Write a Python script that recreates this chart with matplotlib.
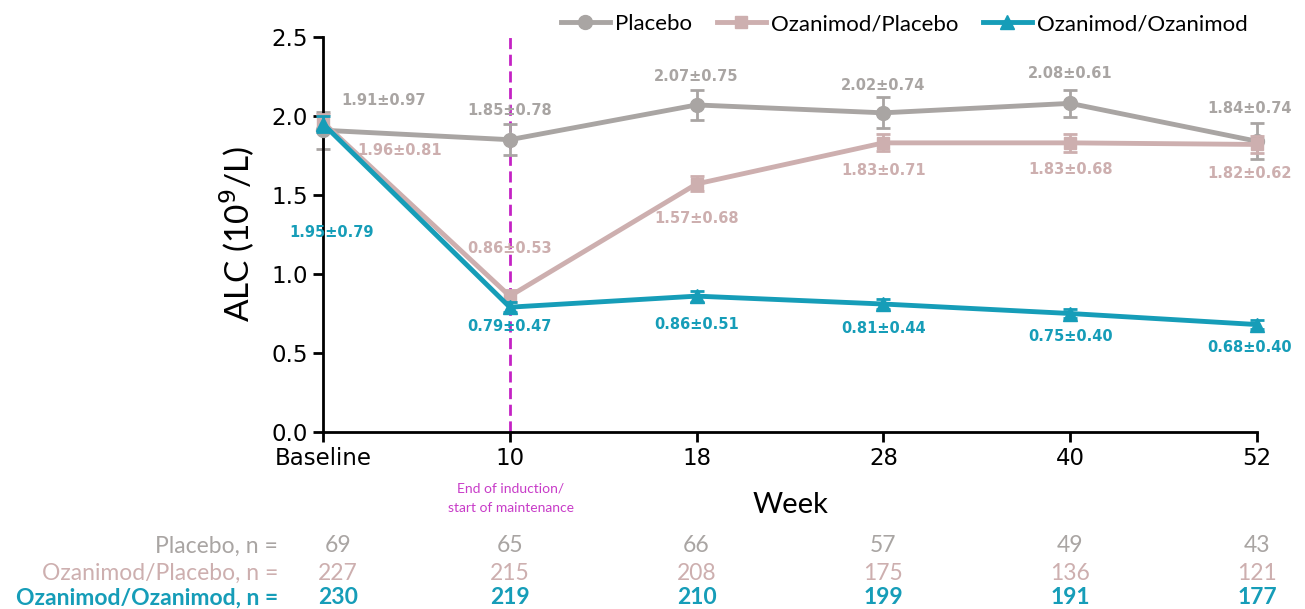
import numpy as np
import matplotlib
matplotlib.use("Agg")
import matplotlib.pyplot as plt

plt.rcParams['font.family'] = ['Lato', 'DejaVu Sans']

categories = ["Baseline", "10", "18", "28", "40", "52"]
series_names = ["Placebo", "Ozanimod/Placebo", "Ozanimod/Ozanimod"]

placebo_mean = [1.91, 1.85, 2.07, 2.02, 2.08, 1.84]
placebo_sd = [0.97, 0.78, 0.75, 0.74, 0.61, 0.74]
placebo_n = [69, 65, 66, 57, 49, 43]

ozpbo_mean = [1.96, 0.86, 1.57, 1.83, 1.83, 1.82]
ozpbo_sd = [0.81, 0.53, 0.68, 0.71, 0.68, 0.62]
ozpbo_n = [227, 215, 208, 175, 136, 121]

ozoz_mean = [1.95, 0.79, 0.86, 0.81, 0.75, 0.68]
ozoz_sd = [0.79, 0.47, 0.51, 0.44, 0.40, 0.40]
ozoz_n = [230, 219, 210, 199, 191, 177]

yticks = [0.0, 0.5, 1.0, 1.5, 2.0, 2.5]

# styles
colors = ["#A9A5A3", "#CDAFAF", "#169DB8"]
markers = ["o", "s", "^"]
msizes = [10, 9, 10]
PX = 0.72  # px -> points at 100 dpi
# label offsets in pixels (dx, dy) where dy positive = downward
offsets = [
    [(61, -30), (0, -29), (0, -28), (0, -27), (0, -30), (-7, -33)],
    [(77, 28), (0, -48), (0, 35), (0, 28), (0, 27), (-7, 29)],
    [(9, 109), (0, 19), (0, 28), (0, 24), (0, 23), (-7, 23)],
]
W, H = 1305, 609

fig = plt.figure(figsize=(W/100, H/100), dpi=100)
ax = fig.add_axes([323/W, 1-432/H, (1257-323)/W, (432-37)/H])

x = np.arange(len(categories))
means = [placebo_mean, ozpbo_mean, ozoz_mean]
sds = [placebo_sd, ozpbo_sd, ozoz_sd]
ns = [placebo_n, ozpbo_n, ozoz_n]

ax.axvline(1, color="#C422C4", lw=2, ls=(0, (4, 2)), zorder=1)

handles = []
for i in range(3):
    m = np.array(means[i]); s = np.array(sds[i]); n = np.array(ns[i])
    se = s / np.sqrt(n)
    ax.errorbar(x, m, yerr=se, fmt='none', ecolor=colors[i], elinewidth=2,
                capsize=5, capthick=2, zorder=2 + i, clip_on=False)
    h, = ax.plot(x, m, color=colors[i], lw=3.5, marker=markers[i], ms=msizes[i],
                 zorder=3 + i, clip_on=False, label=series_names[i])
    handles.append(h)
    for j in range(len(x)):
        dx, dy = offsets[i][j]
        ax.annotate(f"{m[j]:.2f}\u00b1{s[j]:.2f}", (x[j], m[j]),
                    xytext=(dx*PX, -dy*PX), textcoords='offset points',
                    ha='center', va='center', color=colors[i],
                    fontsize=10.5, fontweight='bold', family='DejaVu Sans', zorder=10)

ax.set_xlim(0, 5)
ax.set_ylim(0, 2.5)
ax.set_yticks(yticks)
ax.set_yticklabels([f"{v:.1f}" for v in yticks])
ax.set_xticks(x)
ax.set_xticklabels(categories)
for lab in ax.get_xticklabels() + ax.get_yticklabels():
    lab.set_family('DejaVu Sans')
for sp in ["top", "right"]:
    ax.spines[sp].set_visible(False)
for sp in ["left", "bottom"]:
    ax.spines[sp].set_linewidth(2)
ax.tick_params(axis='both', direction='out', length=7, width=2, labelsize=16.5, pad=4)

fig.text(237/W, 1-234/H, "ALC (10$^9$/L)", rotation=90, ha='center', va='center',
         fontsize=24)
fig.text(790/W, 1-505/H, "Week", ha='center', va='center', fontsize=21)

fig.text(511/W, 1-498/H, "End of induction/\nstart of maintenance",
         ha='center', va='center', color="#C83CC8", fontsize=10, linespacing=1.75)

leg = ax.legend(handles=handles, loc='lower right', bbox_to_anchor=(1.0, 0.985),
                ncol=3, frameon=False, fontsize=16, handlelength=2.2,
                handletextpad=0.25, columnspacing=1.1, borderaxespad=0)

# n table
row_y = [546, 573, 598]
label_x = 278
for i in range(3):
    fy = 1 - row_y[i]/H
    fig.text(label_x/W, fy, f"{series_names[i]}, n =", ha='right', va='center',
             color=colors[i], fontsize=16.5, fontweight='bold' if i == 2 else 'normal')
    for j in range(len(x)):
        xd = ax.transData.transform((x[j], 0))[0]
        xf = fig.transFigure.inverted().transform((xd + (15 if j == 0 else 0), 0))[0]
        fig.text(xf, fy, str(ns[i][j]), ha='center', va='center', color=colors[i],
                 fontsize=16.5, fontweight='bold' if i == 2 else 'normal')

fig.savefig("out.png", dpi=100)
